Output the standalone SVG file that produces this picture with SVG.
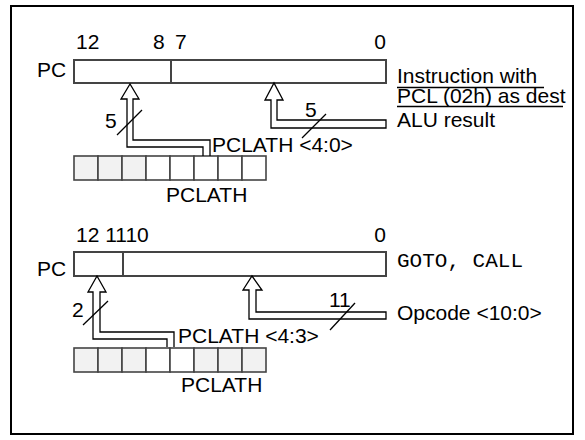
<svg xmlns="http://www.w3.org/2000/svg" width="585" height="440" viewBox="0 0 585 440">
<style>
text{font-family:"Liberation Sans",Arial,sans-serif;font-size:21px;fill:#000}
.mono{font-family:"Liberation Mono","Courier New",monospace;font-size:21px}
.reg{fill:#fff;stroke:#444;stroke-width:2}
.cell{stroke:#444;stroke-width:1.6}
.sh{fill:#f2f2f2}
.wh{fill:#fff}
.bus{fill:none;stroke:#000;stroke-width:1.3;stroke-linejoin:miter}
.sl{stroke:#000;stroke-width:1.3}
.ul{stroke:#000;stroke-width:1.4}
</style>
<rect x="11" y="6" width="562" height="428" fill="#fff" stroke="#000" stroke-width="2"/>
<g id="pc1">
<text x="37" y="77">PC</text>
<text x="76" y="49">12</text>
<text x="153" y="49">8</text>
<text x="175" y="49">7</text>
<text x="386" y="49" text-anchor="end">0</text>
<rect class="reg" x="74" y="60" width="312" height="23"/>
<line x1="171" y1="60" x2="171" y2="83" stroke="#444" stroke-width="2"/>
</g>
<g id="pclath1">
<rect class="cell sh" x="74" y="156" width="24" height="24"/>
<rect class="cell sh" x="98" y="156" width="24" height="24"/>
<rect class="cell sh" x="122" y="156" width="24" height="24"/>
<rect class="cell wh" x="146" y="156" width="24" height="24"/>
<rect class="cell wh" x="170" y="156" width="24" height="24"/>
<rect class="cell wh" x="194" y="156" width="24" height="24"/>
<rect class="cell wh" x="218" y="156" width="24" height="24"/>
<rect class="cell wh" x="242" y="156" width="24" height="24"/>
<text x="166" y="202">PCLATH</text>
</g>
<g id="src1">
<text x="397" y="83" font-size="20.5">Instruction with</text>
<line class="ul" x1="397" y1="87.5" x2="544" y2="87.5"/>
<text x="397" y="103" font-size="20.5">PCL (02h) as dest</text>
<line class="ul" x1="397" y1="106.5" x2="563" y2="106.5"/>
<text x="397" y="127">ALU result</text>
</g>
<g id="pc2">
<text x="37" y="276">PC</text>
<text x="76" y="242">12 1110</text>
<text x="386" y="242" text-anchor="end">0</text>
<rect class="reg" x="74" y="252" width="312" height="24"/>
<line x1="123" y1="252" x2="123" y2="276" stroke="#444" stroke-width="2"/>
</g>
<g id="pclath2">
<rect class="cell sh" x="74" y="348" width="24" height="24"/>
<rect class="cell sh" x="98" y="348" width="24" height="24"/>
<rect class="cell sh" x="122" y="348" width="24" height="24"/>
<rect class="cell wh" x="146" y="348" width="24" height="24"/>
<rect class="cell wh" x="170" y="348" width="24" height="24"/>
<rect class="cell sh" x="194" y="348" width="24" height="24"/>
<rect class="cell sh" x="218" y="348" width="24" height="24"/>
<rect class="cell sh" x="242" y="348" width="24" height="24"/>
<text x="181" y="392">PCLATH</text>
</g>
<g id="src2">
<text x="397" y="267" class="mono">GOTO, CALL</text>
<text x="397" y="320">Opcode &lt;10:0&gt;</text>
</g>
<g id="connectors">
<path class="bus" d="M203,156 L203,147 L127,147 L127,99 L121,99 L130,84 L139,99 L133,99 L133,140 L210,140 L210,156"/>
<path class="bus" d="M386,128 L271,128 L271,100 L265,100 L274,83 L283,100 L277,100 L277,120 L386,120 Z"/>
<path class="bus" d="M167,347 L167,339 L93,339 L93,292 L88,292 L97,276 L106,292 L100,292 L100,332 L174,332 L174,347"/>
<path class="bus" d="M386,319 L249,319 L249,290 L243,290 L252,276 L262,290 L256,290 L256,312 L386,312 Z"/>
<line class="sl" x1="117" y1="135" x2="142" y2="110"/>
<line class="sl" x1="302" y1="138" x2="326" y2="114"/>
<line class="sl" x1="83" y1="325" x2="108" y2="301"/>
<line class="sl" x1="330" y1="330" x2="355" y2="303"/>
<text x="105" y="128">5</text>
<text x="305" y="117">5</text>
<text x="72" y="317">2</text>
<text x="329" y="307">11</text>
<text x="212" y="152">PCLATH &lt;4:0&gt;</text>
<text x="178" y="343">PCLATH &lt;4:3&gt;</text>
</g>
</svg>
